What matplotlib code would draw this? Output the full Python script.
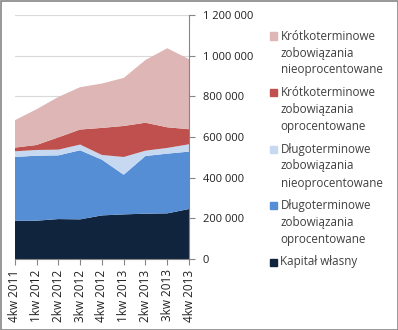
import matplotlib

matplotlib.use("Agg")
import matplotlib.pyplot as plt
from matplotlib.patches import Rectangle
from matplotlib.ticker import FuncFormatter

plt.rcParams["font.family"] = ["Open Sans", "DejaVu Sans"]

quarters = ["4kw 2011", "1kw 2012", "2kw 2012", "3kw 2012", "4kw 2012",
            "1kw 2013", "2kw 2013", "3kw 2013", "4kw 2013"]

kapital = [188500, 188500, 196500, 195000, 214500, 219500, 223000, 224500, 246000]
dlug_opr = [313000, 319500, 313000, 339500, 274000, 195000, 283500, 293500, 282000]
dlug_nieopr = [28000, 28000, 28000, 28000, 23000, 87000, 26000, 28000, 36000]
krot_opr = [18000, 24500, 60500, 74000, 133000, 152500, 137500, 101500, 74000]
krot_nieopr = [134500, 175500, 198500, 208000, 218000, 236000, 308000, 388500, 344000]

series = [
    ("Kapitał własny", kapital, "#10243E"),
    ("Długoterminowe\nzobowiązania\noprocentowane", dlug_opr, "#558ED5"),
    ("Długoterminowe\nzobowiązania\nnieoprocentowane", dlug_nieopr, "#C6D9F1"),
    ("Krótkoterminowe\nzobowiązania\noprocentowane", krot_opr, "#C0504D"),
    ("Krótkoterminowe\nzobowiązania\nnieoprocentowane", krot_nieopr, "#DDB6B5"),
]

fig = plt.figure(figsize=(3.98, 3.30), dpi=100)
ax = fig.add_axes([0.037, 0.215, 0.438, 0.74])

x = list(range(len(quarters)))
ax.stackplot(x, *[s[1] for s in series], colors=[s[2] for s in series],
             linewidth=0, zorder=2)

ax.set_xlim(0, len(quarters) - 1)
ax.set_ylim(0, 1200000)
ax.set_yticks(range(0, 1200001, 200000))
ax.yaxis.set_major_formatter(FuncFormatter(lambda v, p: f"{int(v):,}".replace(",", " ")))
ax.yaxis.tick_right()
ax.grid(axis="y", color="#D9D9D9", linewidth=0.8, zorder=0)
ax.set_axisbelow(True)
ax.set_xticks(x)
ax.set_xticklabels(quarters, rotation=90, fontsize=8.5)

for side in ("left", "top"):
    ax.spines[side].set_visible(False)
for side in ("right", "bottom"):
    ax.spines[side].set_color("#868686")
    ax.spines[side].set_zorder(3)
ax.tick_params(axis="both", colors="#868686", labelcolor="#202020", labelsize=8,
               length=4, width=0.8)
ax.tick_params(axis="x", labelsize=8.5)
ax.tick_params(axis="y", pad=6)

# legend drawn by hand so each square sits beside the first line of its label
line_h = 17 / 330
entry_h = 56.5 / 330
y0 = 1 - 36 / 330
for i, (label, _, color) in enumerate(reversed(series)):
    yy = y0 - i * entry_h
    fig.patches.append(Rectangle((270 / 398, yy - 3.5 / 330), 7 / 398, 7 / 330,
                                 transform=fig.transFigure, color=color))
    for j, line in enumerate(label.split("\n")):
        fig.text(280.5 / 398, yy - j * line_h, line, fontsize=8.4, va="center",
                 ha="left", color="#404040")

fig.patches.append(Rectangle((0.5 / 398, 0.5 / 330), 397 / 398, 329 / 330,
                             transform=fig.transFigure, fill=False,
                             edgecolor="#868686", linewidth=1.2))

fig.savefig("out.png", dpi=100)
